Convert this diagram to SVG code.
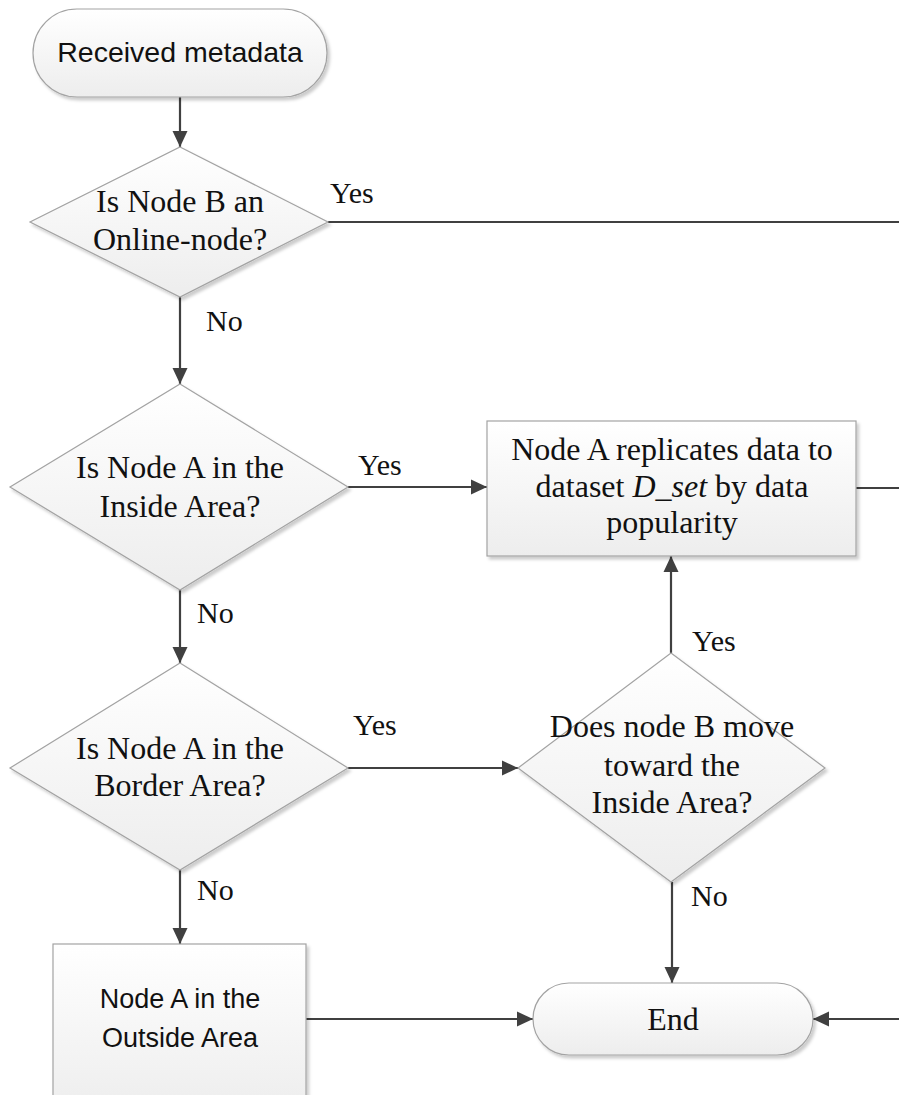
<svg xmlns="http://www.w3.org/2000/svg" width="899" height="1095" viewBox="0 0 899 1095">
  <style>
    .shape { fill: url(#shade); stroke: #a3a3a3; stroke-width: 1.2; filter: url(#shadow); }
    .serif { font-family: "Liberation Serif", "Times New Roman", serif; font-size: 32px; fill: #111; text-anchor: middle; }
    .sans { font-family: "Liberation Sans", Arial, sans-serif; fill: #111; text-anchor: middle; }
    .label { font-family: "Liberation Serif", "Times New Roman", serif; font-size: 30px; fill: #111; }
    .conn { fill: none; stroke: #404040; stroke-width: 2.2; }
    .arrow { marker-end: url(#head); }
  </style>
  <defs>
    <linearGradient id="shade" x1="0" y1="0" x2="0" y2="1">
      <stop offset="0" stop-color="#ffffff"/>
      <stop offset="1" stop-color="#ededed"/>
    </linearGradient>
    <filter id="shadow" x="-10%" y="-10%" width="125%" height="125%">
      <feDropShadow dx="2.5" dy="3" stdDeviation="1.5" flood-color="#000" flood-opacity="0.2"/>
    </filter>
    <marker id="head" markerUnits="userSpaceOnUse" markerWidth="18" markerHeight="18" refX="16" refY="8.5" orient="auto">
      <path d="M0,1 L16,8.5 L0,16 z" fill="#404040"/>
    </marker>
  </defs>

  <rect width="899" height="1095" fill="#ffffff"/>

  <!-- connectors -->
  <g id="connectors">
    <line class="conn arrow" x1="180" y1="97" x2="180" y2="147"/>
    <line class="conn" x1="328" y1="222" x2="899" y2="222"/>
    <line class="conn arrow" x1="180" y1="297" x2="180" y2="384"/>
    <line class="conn arrow" x1="348" y1="487" x2="487" y2="487"/>
    <line class="conn" x1="856" y1="488" x2="899" y2="488"/>
    <line class="conn arrow" x1="180" y1="590" x2="180" y2="663"/>
    <line class="conn arrow" x1="348" y1="768" x2="518" y2="768"/>
    <line class="conn arrow" x1="671" y1="653" x2="671" y2="556"/>
    <line class="conn arrow" x1="180" y1="870" x2="180" y2="944"/>
    <line class="conn arrow" x1="672" y1="882" x2="672" y2="983"/>
    <line class="conn arrow" x1="306" y1="1019" x2="533" y2="1019"/>
    <line class="conn arrow" x1="899" y1="1019" x2="813" y2="1019"/>

    <text class="label" x="330" y="203">Yes</text>
    <text class="label" x="206" y="331">No</text>
    <text class="label" x="358" y="475">Yes</text>
    <text class="label" x="197" y="623">No</text>
    <text class="label" x="692" y="651">Yes</text>
    <text class="label" x="353" y="735">Yes</text>
    <text class="label" x="197" y="900">No</text>
    <text class="label" x="691" y="906">No</text>
  </g>

  <!-- start terminal -->
  <g id="start">
    <rect class="shape" x="33" y="9" width="294" height="88" rx="44" ry="44"/>
    <text class="sans" x="180" y="62" font-size="28.5">Received metadata</text>
  </g>

  <!-- decision: online node -->
  <g id="is-online">
    <polygon class="shape" points="180,147 328,222 180,297 30,222"/>
    <text class="serif" x="180" y="212">Is Node B an</text>
    <text class="serif" x="180" y="250">Online-node?</text>
  </g>

  <!-- decision: inside area -->
  <g id="is-inside">
    <polygon class="shape" points="180,384 348,487 180,590 10,487"/>
    <text class="serif" x="180" y="478">Is Node A in the</text>
    <text class="serif" x="180" y="517">Inside Area?</text>
  </g>

  <!-- process: replicate data -->
  <g id="replicate">
    <rect class="shape" x="487" y="421" width="369" height="135"/>
    <text class="serif" x="672" y="460">Node A replicates data to</text>
    <text class="serif" x="672" y="497">dataset <tspan font-style="italic">D_set</tspan> by data</text>
    <text class="serif" x="672" y="533">popularity</text>
  </g>

  <!-- decision: border area -->
  <g id="is-border">
    <polygon class="shape" points="180,663 348,768 180,870 10,768"/>
    <text class="serif" x="180" y="759">Is Node A in the</text>
    <text class="serif" x="180" y="796">Border Area?</text>
  </g>

  <!-- decision: moving inward -->
  <g id="moves-inward">
    <polygon class="shape" points="671,653 825,768 671,882 518,768"/>
    <text class="serif" x="672" y="737">Does node B move</text>
    <text class="serif" x="672" y="776">toward the</text>
    <text class="serif" x="672" y="813">Inside Area?</text>
  </g>

  <!-- process: outside area -->
  <g id="outside">
    <rect class="shape" x="53" y="944" width="253" height="170"/>
    <text class="sans" x="180" y="1008" font-size="27">Node A in the</text>
    <text class="sans" x="180" y="1047" font-size="27">Outside Area</text>
  </g>

  <!-- end terminal -->
  <g id="end">
    <rect class="shape" x="533" y="983" width="280" height="72" rx="36" ry="36"/>
    <text class="serif" x="673" y="1030" font-size="30">End</text>
  </g>
</svg>
